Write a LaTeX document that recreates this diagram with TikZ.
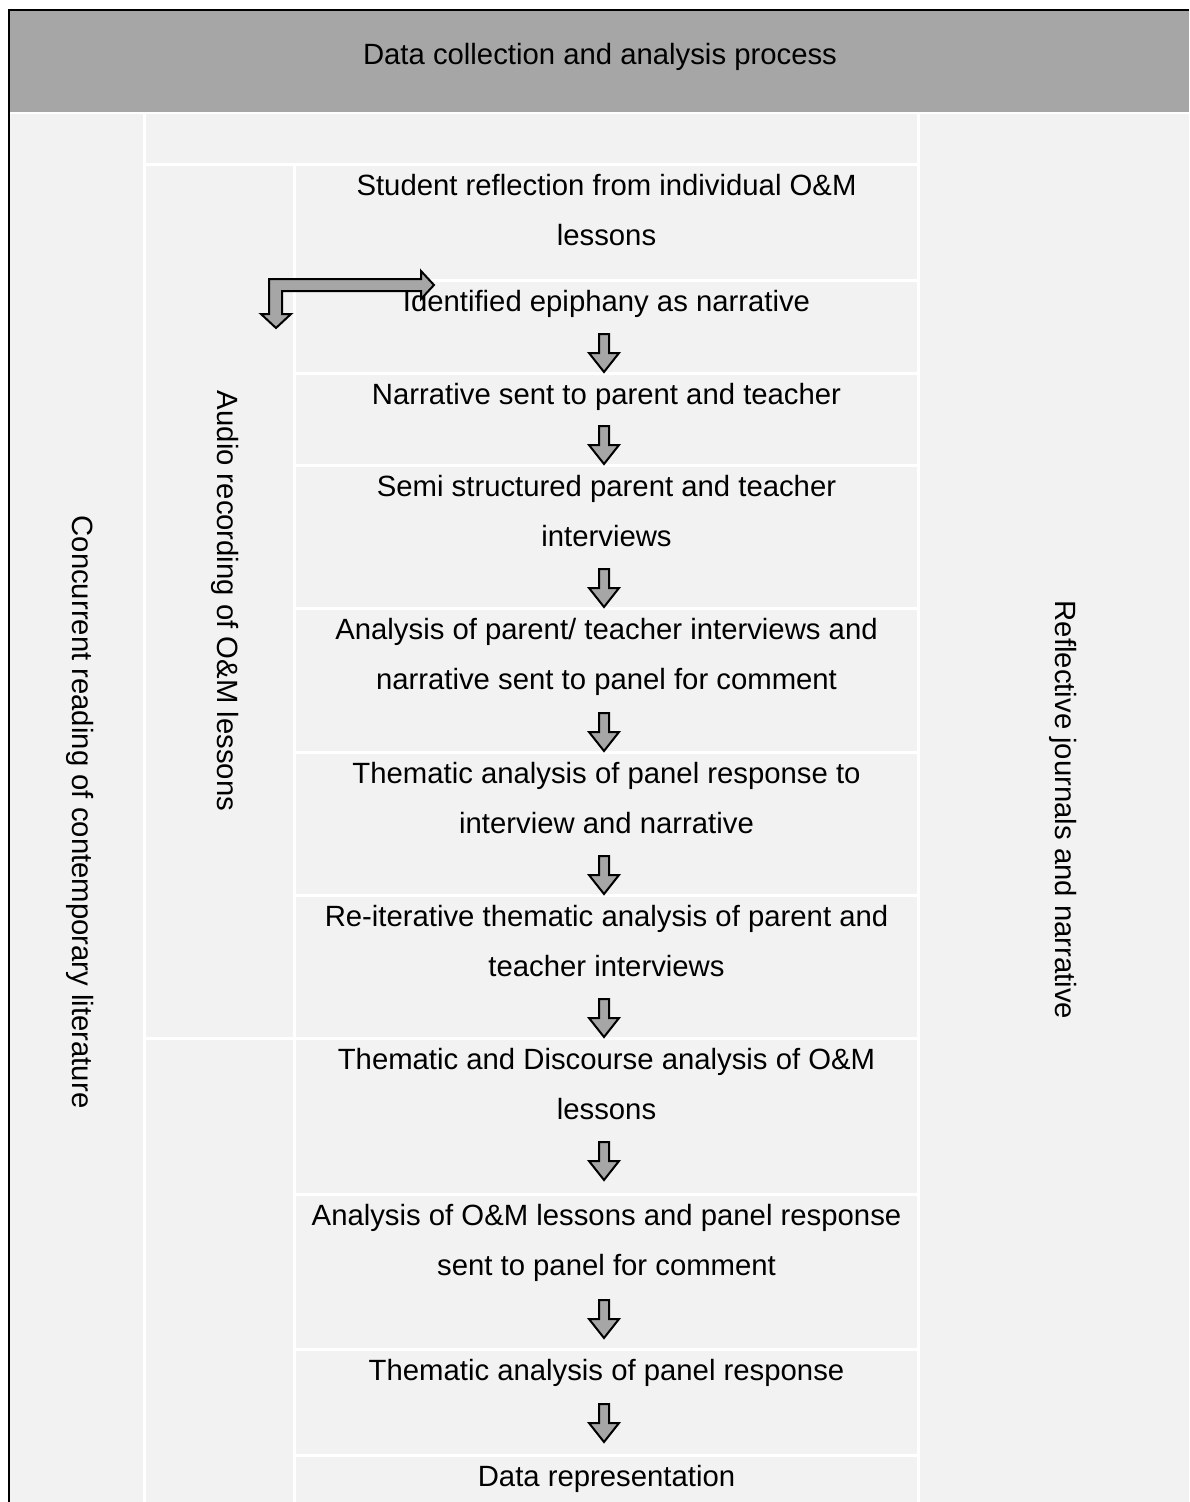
\documentclass[tikz,border=0pt]{standalone}
\usepackage{fontspec}
\setmainfont{Liberation Sans}
\definecolor{hdrgray}{HTML}{A6A6A6}
\definecolor{cellgray}{HTML}{F2F2F2}
\definecolor{arrgray}{HTML}{A6A6A6}
\newcommand\blockdown[3]{% name, x, tip y
  \draw[blockarr] (#2-5,-#3+38) -- (#2+5,-#3+38) -- (#2+5,-#3+19) -- (#2+15,-#3+19)
    -- (#2,-#3) -- (#2-15,-#3+19) -- (#2-5,-#3+19) -- cycle;
  \coordinate (#1) at (#2,-#3);
}
\tikzset{
  cell/.style={fill=cellgray, draw=none},
  rowtext/.style={font=\fontsize{29.3}{50.5}\selectfont, align=center, inner sep=0pt, anchor=north},
  sidetext/.style={font=\fontsize{29.3}{35}\selectfont, inner sep=0pt, anchor=center, rotate=-90},
  blockarr/.style={fill=arrgray, draw=black, line width=2pt, line join=miter},
}
\begin{document}
\begin{tikzpicture}[x=1pt,y=1pt]
\useasboundingbox (0,0) rectangle (1189,-1502);
\fill[white] (0,0) rectangle (1189,-1502);
% header
\fill[hdrgray] (10,-11) rectangle (1189,-112);
\node[font=\fontsize{29.3}{35}\selectfont, inner sep=0pt, anchor=base] (hdr) at (600,-64.5) {Data collection and analysis process};
% columns
\fill[cell] (10,-114) rectangle (143,-1502);
\fill[cell] (146,-114) rectangle (917,-163);
\fill[cell] (146,-166) rectangle (293,-1037);
\fill[cell] (146,-1040) rectangle (293,-1502);
\fill[cell] (920,-114) rectangle (1189,-1502);
% col3 rows
\foreach \t/\b in {166/279, 282/372, 375/464, 467/607, 610/751, 754/894, 897/1037, 1040/1193, 1196/1348, 1351/1454, 1457/1502}
  \fill[cell] (296,-\t) rectangle (917,-\b);
% border
\draw[line width=2.2pt] (9,-1502) -- (9,-10) -- (1189,-10);
% side texts
\node[sidetext] (lit) at (80,-812) {Concurrent reading of contemporary literature};
\node[sidetext] (audio) at (225,-601) {Audio recording of O\&M lessons};
\node[sidetext] (refl) at (1063,-810) {Reflective journals and narrative};
% row texts (top - 6.35)
\node[rowtext] (r1) at (606.5,-159.65) {\strut Student reflection from individual O\&M\\\strut lessons};
\node[rowtext] (r2) at (606.5,-275.65) {\strut Identified epiphany as narrative};
\node[rowtext] (r3) at (606.5,-368.65) {\strut Narrative sent to parent and teacher};
\node[rowtext] (r4) at (606.5,-460.65) {\strut Semi structured parent and teacher\\\strut interviews};
\node[rowtext] (r5) at (606.5,-603.65) {\strut Analysis of parent/ teacher interviews and\\\strut narrative sent to panel for comment};
\node[rowtext] (r6) at (606.5,-747.65) {\strut Thematic analysis of panel response to\\\strut interview and narrative};
\node[rowtext] (r7) at (606.5,-890.65) {\strut Re-iterative thematic analysis of parent and\\\strut teacher interviews};
\node[rowtext] (r8) at (606.5,-1033.65) {\strut Thematic and Discourse analysis of O\&M\\\strut lessons};
\node[rowtext] (r9) at (606.5,-1189.65) {\strut Analysis of O\&M lessons and panel response\\\strut sent to panel for comment};
\node[rowtext] (r10) at (606.5,-1344.65) {\strut Thematic analysis of panel response};
\node[rowtext] (r11) at (606.5,-1450.65) {\strut Data representation};
% down block arrows
\blockdown{a1}{604}{372}
\blockdown{a2}{604}{464}
\blockdown{a3}{604}{607}
\blockdown{a4}{604}{751}
\blockdown{a5}{604}{894}
\blockdown{a6}{604}{1037}
\blockdown{a7}{604}{1180}
\blockdown{a8}{604}{1338}
\blockdown{a9}{604}{1442}
% bent double arrow
\draw[blockarr] (269,-279) -- (421,-279) -- (421,-271) -- (434,-285) -- (421,-299) -- (421,-291)
  -- (282,-291) -- (282,-314) -- (291,-314) -- (276,-328) -- (261,-314) -- (269,-314) -- cycle;
\end{tikzpicture}
\end{document}
